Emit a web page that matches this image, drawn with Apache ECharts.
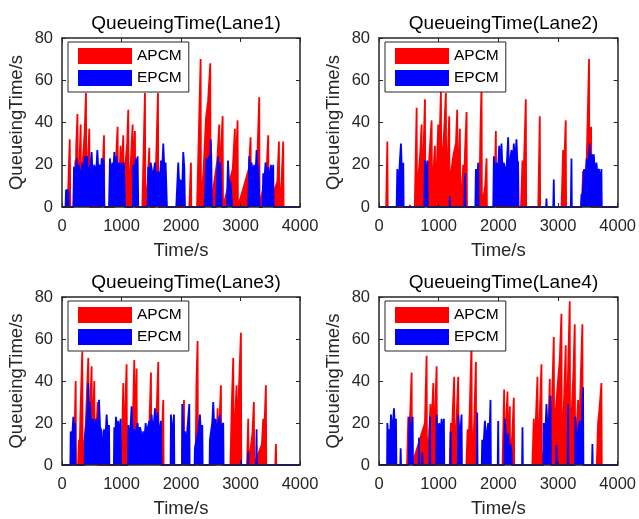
<!DOCTYPE html>
<html><head><meta charset="utf-8">
<script src="https://cdn.jsdelivr.net/npm/echarts@6/dist/echarts.min.js"></script>
<style>html,body{margin:0;padding:0;background:#fff}#c{width:639px;height:519px}</style>
</head><body><div id="c"></div>
<script>
const laneTitles = ['QueueingTime(Lane1)','QueueingTime(Lane2)','QueueingTime(Lane3)','QueueingTime(Lane4)'];
const seriesNames = ['APCM','EPCM'];
const xName = 'Time/s';
const yName = 'QueueingTime/s';

// Lane 1
const a1 = [[0,0],[95,0],[130,32],[140,0],[195,0],[225,22],[232,0],[238,28],[260,44],[266,0],[290,18],[314,39],[320,0],[350,22],[380,35],[403,54],[409,0],[425,15],[459,37],[465,0],[660,0],[690,22],[706,34],[712,0],[880,0],[910,24],[935,38],[941,0],[960,12],[986,29],[992,0],[1005,18],[1030,34],[1036,0],[1070,22],[1095,30],[1114,46],[1120,0],[1150,18],[1187,39],[1193,0],[1205,22],[1226,36],[1232,0],[1350,0],[1375,30],[1394,54],[1400,0],[1440,12],[1467,28],[1473,0],[1560,0],[1590,30],[1613,54],[1619,0],[2140,0],[2167,21],[2173,0],[2270,0],[2300,35],[2330,70],[2336,0],[2380,18],[2420,42],[2455,50],[2492,68],[2498,0],[2610,22],[2643,39],[2649,0],[2670,25],[2700,43],[2706,0],[2870,18],[2906,37],[2912,0],[2925,22],[2951,41],[2957,0],[3140,18],[3170,33],[3176,0],[3285,25],[3315,52],[3321,0],[3440,18],[3466,34],[3472,0],[3620,12],[3646,31],[3652,0],[3690,12],[3718,31],[3724,0],[4000,0]];
const b1 = [[0,0],[60,0],[67,8],[106,8],[110,0],[190,0],[201,19],[220,10],[246,23],[260,15],[280,20],[302,17],[320,12],[342,21],[360,14],[386,24],[410,22],[425,24],[430,0],[445,0],[455,18],[480,20],[498,26],[520,12],[543,20],[570,14],[594,27],[610,18],[638,20],[650,12],[666,23],[700,22],[711,0],[790,0],[806,23],[826,12],[846,21],[860,15],[879,26],[900,18],[918,24],[935,14],[957,21],[980,16],[1002,21],[1020,12],[1041,21],[1058,0],[1190,0],[1198,20],[1215,14],[1240,23],[1260,15],[1271,24],[1282,0],[1440,0],[1450,19],[1470,12],[1490,21],[1506,21],[1530,14],[1562,21],[1590,12],[1618,17],[1640,10],[1663,22],[1680,15],[1702,30],[1720,18],[1741,21],[1764,0],[1920,0],[1954,21],[1970,10],[1990,13],[2020,8],[2038,26],[2055,19],[2067,0],[2395,0],[2430,23],[2450,15],[2470,24],[2490,18],[2500,32],[2510,22],[2520,0],[2590,0],[2620,24],[2640,15],[2660,21],[2685,0],[2770,0],[2790,22],[2810,10],[2830,12],[2860,0],[3130,0],[3147,24],[3165,14],[3186,21],[3210,15],[3231,20],[3250,12],[3270,27],[3285,15],[3298,20],[3320,0],[3370,0],[3382,16],[3400,12],[3421,21],[3440,14],[3466,19],[3490,12],[3511,20],[3530,14],[3550,20],[3556,0],[4000,0]];

// Lane 2
const a2 = [[0,0],[120,0],[140,31],[146,0],[510,0],[519,1],[525,0],[600,0],[631,47],[637,0],[650,10],[690,25],[714,39],[720,5],[740,20],[770,51],[776,8],[800,15],[840,22],[882,41],[888,10],[915,18],[938,29],[944,8],[970,20],[993,39],[999,12],[1015,30],[1038,56],[1044,10],[1065,25],[1090,35],[1121,54],[1127,8],[1150,22],[1177,43],[1183,0],[1200,15],[1250,25],[1290,30],[1311,46],[1317,5],[1335,20],[1356,37],[1362,0],[1390,10],[1412,20],[1418,0],[1440,25],[1468,45],[1474,0],[1680,0],[1700,35],[1719,58],[1725,0],[1780,10],[1803,23],[1809,0],[1930,0],[1959,36],[1965,0],[2380,0],[2405,22],[2411,0],[2430,20],[2461,51],[2467,0],[2670,0],[2695,43],[2701,0],[3060,0],[3086,27],[3092,0],[3105,20],[3130,41],[3136,0],[3400,0],[3420,17],[3426,0],[3480,20],[3500,45],[3521,70],[3527,0],[3540,20],[3555,38],[3561,0],[4000,0]];
const b2 = [[0,0],[295,0],[307,18],[330,10],[350,22],[368,30],[385,15],[407,21],[413,0],[760,0],[770,22],[790,12],[810,22],[816,0],[1180,0],[1188,5],[1194,0],[1430,0],[1440,16],[1448,0],[1615,0],[1624,18],[1640,10],[1663,21],[1669,0],[1915,0],[1925,24],[1945,12],[1965,21],[1990,15],[2014,29],[2030,18],[2053,30],[2075,14],[2090,21],[2109,19],[2125,10],[2145,22],[2165,33],[2180,16],[2200,22],[2221,27],[2240,18],[2260,30],[2280,20],[2304,32],[2318,22],[2332,21],[2340,0],[2800,0],[2807,4],[2813,0],[2920,0],[2930,13],[2936,0],[3215,0],[3226,23],[3232,0],[3385,0],[3393,6],[3399,0],[3430,0],[3438,18],[3460,12],[3480,23],[3500,15],[3532,30],[3550,18],[3570,25],[3585,15],[3600,25],[3620,15],[3644,21],[3665,14],[3685,18],[3700,18],[3715,12],[3728,18],[3734,0],[4000,0]];

// Lane 3
const a3 = [[0,0],[200,0],[230,40],[236,0],[270,0],[286,12],[292,0],[310,25],[341,54],[347,0],[400,20],[420,35],[442,51],[448,5],[470,25],[498,47],[504,8],[520,22],[543,40],[549,5],[575,15],[599,30],[605,0],[1000,0],[1030,39],[1036,0],[1060,25],[1086,48],[1092,0],[1190,20],[1215,50],[1221,10],[1235,25],[1254,46],[1260,0],[1470,20],[1495,44],[1501,0],[1590,25],[1618,49],[1624,0],[1680,15],[1702,31],[1708,0],[2025,0],[2050,31],[2056,0],[2245,0],[2260,40],[2279,59],[2285,0],[2590,0],[2615,27],[2621,0],[2645,20],[2671,38],[2677,0],[2830,0],[2855,30],[2878,51],[2884,5],[2905,20],[2934,38],[2940,10],[2965,30],[2985,45],[3007,63],[3013,0],[3110,0],[3130,22],[3136,0],[3200,15],[3225,30],[3231,0],[3360,10],[3382,22],[3388,0],[3405,20],[3427,38],[3433,0],[3585,0],[3595,10],[3601,0],[4000,0]];
const b3 = [[0,0],[140,0],[146,16],[165,10],[190,23],[205,14],[218,20],[225,0],[380,0],[386,13],[405,18],[425,25],[442,39],[455,20],[470,30],[490,16],[510,22],[526,21],[545,13],[565,22],[582,21],[600,14],[622,31],[640,18],[666,16],[672,0],[700,0],[706,17],[725,10],[750,24],[770,15],[790,19],[796,0],[872,0],[879,18],[895,12],[907,23],[925,15],[946,21],[965,13],[986,22],[992,0],[1108,0],[1114,19],[1135,12],[1155,20],[1170,28],[1190,15],[1215,17],[1235,12],[1255,18],[1271,20],[1290,13],[1310,18],[1327,16],[1345,10],[1366,16],[1385,12],[1406,20],[1425,14],[1445,18],[1467,21],[1485,14],[1506,24],[1525,16],[1545,20],[1562,27],[1580,18],[1607,25],[1625,15],[1645,18],[1663,21],[1670,0],[1825,0],[1831,24],[1850,13],[1870,20],[1882,24],[1888,0],[2015,0],[2021,29],[2040,14],[2066,16],[2085,10],[2110,18],[2139,29],[2145,0],[2228,0],[2234,8],[2260,12],[2290,16],[2318,24],[2335,14],[2358,19],[2364,0],[2480,0],[2486,12],[2505,16],[2525,20],[2542,30],[2560,17],[2582,22],[2600,14],[2620,20],[2654,24],[2670,15],[2690,19],[2710,20],[2716,0],[3002,0],[3007,2.5],[3012,0],[3125,0],[3130,6.5],[3136,0],[3262,0],[3270,17],[3276,0],[4000,0]];

// Lane 4
const a4 = [[0,0],[470,0],[491,23],[497,0],[520,22],[547,44],[553,0],[770,20],[798,52],[804,0],[840,15],[863,29],[869,5],[885,20],[910,39],[916,5],[940,25],[966,47],[972,0],[1185,0],[1205,20],[1211,0],[1235,25],[1261,42],[1267,0],[1300,22],[1328,42],[1334,0],[1465,0],[1485,17],[1491,0],[1520,25],[1551,58],[1557,0],[1595,20],[1624,49],[1630,0],[2070,0],[2098,36],[2104,10],[2130,20],[2154,35],[2160,5],[2175,15],[2193,28],[2199,0],[2235,15],[2260,32],[2266,0],[2570,0],[2595,22],[2601,0],[2630,22],[2656,42],[2662,0],[2695,25],[2723,48],[2729,0],[2840,20],[2863,41],[2869,5],[2900,30],[2930,61],[2936,8],[2960,25],[3000,40],[3030,50],[3058,72],[3064,5],[3100,30],[3130,57],[3136,10],[3165,40],[3197,78],[3203,10],[3230,25],[3260,45],[3281,67],[3287,5],[3310,15],[3337,31],[3343,5],[3375,35],[3409,67],[3415,0],[3650,0],[3672,20],[3690,25],[3710,32],[3728,39],[3734,0],[4000,0]];
const b4 = [[0,0],[135,0],[140,20],[158,12],[173,17],[185,12],[201,24],[225,15],[251,27],[268,16],[285,22],[291,0],[357,0],[363,8],[369,0],[500,0],[508,23],[530,14],[550,18],[564,23],[570,0],[664,0],[670,13],[676,0],[720,0],[726,6],[732,0],[845,0],[854,23],[860,0],[958,0],[966,24],[985,14],[1010,20],[1030,13],[1049,22],[1068,15],[1088,22],[1094,0],[1193,0],[1200,16],[1206,0],[1320,0],[1328,24],[1350,14],[1370,18],[1384,24],[1390,0],[1638,0],[1646,25],[1652,0],[1722,0],[1730,12],[1750,8],[1775,21],[1795,12],[1815,16],[1830,20],[1850,12],[1869,31],[1875,0],[1990,0],[1998,21],[2004,0],[2100,0],[2109,22],[2130,12],[2165,15],[2180,8],[2200,10],[2221,6],[2227,0],[2398,0],[2405,18],[2411,0],[2755,0],[2762,20],[2785,14],[2807,29],[2825,16],[2850,22],[2874,33],[2880,0],[2968,0],[2975,9.5],[2981,0],[3160,0],[3169,29],[3175,0],[3285,0],[3292,23],[3310,10],[3335,16],[3365,21],[3385,14],[3400,20],[3420,37],[3426,0],[3570,0],[3577,10],[3583,0],[4000,0]];

const apcm = [a1,a2,a3,a4];
const epcm = [b1,b2,b3,b4];

const FONT = 'Liberation Sans, Arial, sans-serif';
const INK = '#262626';
const RED = '#ff0000', BLUE = '#0000ff';

const grids = [
  {left:62, top:38, width:238, height:169},
  {left:379, top:38, width:239, height:169},
  {left:62, top:297, width:238, height:170},
  {left:379, top:297, width:239, height:170}
];

const axisLine = {show:true, onZero:false, lineStyle:{color:INK, width:1.5}};
const axisTick = {show:true, inside:true, length:4, lineStyle:{color:INK, width:1}};
const plain = v => String(v);

const xAxis = [], yAxis = [], series = [], title = [], legend = [];
grids.forEach((g, i) => {
  xAxis.push({type:'value', gridIndex:i, min:0, max:4000, interval:1000, position:'bottom', z:10,
    axisLine, axisTick, splitLine:{show:false},
    axisLabel:{fontSize:16.5, color:INK, fontFamily:FONT, margin:11, formatter:plain},
    name:xName, nameLocation:'middle', nameGap:34,
    nameTextStyle:{fontSize:18.5, color:INK, fontFamily:FONT}});
  xAxis.push({type:'value', gridIndex:i, min:0, max:4000, interval:1000, position:'top', z:10,
    axisLine, axisTick, splitLine:{show:false}, axisLabel:{show:false}});
  yAxis.push({type:'value', gridIndex:i, min:0, max:80, interval:20, position:'left', z:10,
    axisLine, axisTick, splitLine:{show:false},
    axisLabel:{fontSize:16.5, color:INK, fontFamily:FONT, margin:9, formatter:plain},
    name:yName, nameLocation:'middle', nameGap:36, nameRotate:90,
    nameTextStyle:{fontSize:18.5, color:INK, fontFamily:FONT}});
  yAxis.push({type:'value', gridIndex:i, min:0, max:80, interval:20, position:'right', z:10,
    axisLine, axisTick, splitLine:{show:false}, axisLabel:{show:false}});
  title.push({text:laneTitles[i], left:g.left + g.width/2, top:g.top - 29, textAlign:'center',
    textStyle:{fontSize:19, fontWeight:'normal', color:'#000', fontFamily:FONT}});
  legend.push({left:g.left + 6, top:g.top + 4, orient:'vertical', selectedMode:false, z:12,
    itemWidth:54, itemHeight:16, itemGap:6, padding:[6,7,6,10],
    borderColor:INK, borderWidth:1, backgroundColor:'#fff', borderRadius:0,
    textStyle:{fontSize:15.5, color:'#000', fontFamily:FONT},
    data:[{name:seriesNames[0], icon:'rect', itemStyle:{color:RED}},
          {name:seriesNames[1], icon:'rect', itemStyle:{color:BLUE}}]});
  series.push({name:seriesNames[0], type:'line', xAxisIndex:2*i, yAxisIndex:2*i, data:apcm[i],
    symbol:'none', lineStyle:{color:RED, width:1.8}, itemStyle:{color:RED},
    areaStyle:{color:RED, opacity:1}, z:2});
  series.push({name:seriesNames[1], type:'line', xAxisIndex:2*i, yAxisIndex:2*i, data:epcm[i],
    symbol:'none', lineStyle:{color:BLUE, width:1.8}, itemStyle:{color:BLUE},
    areaStyle:{color:BLUE, opacity:1}, z:3});
});

const chart = echarts.init(document.getElementById('c'), null, {renderer:'canvas'});
chart.setOption({animation:false, backgroundColor:'#fff', grid:grids, xAxis, yAxis, series, title, legend});
</script>
</body></html>
